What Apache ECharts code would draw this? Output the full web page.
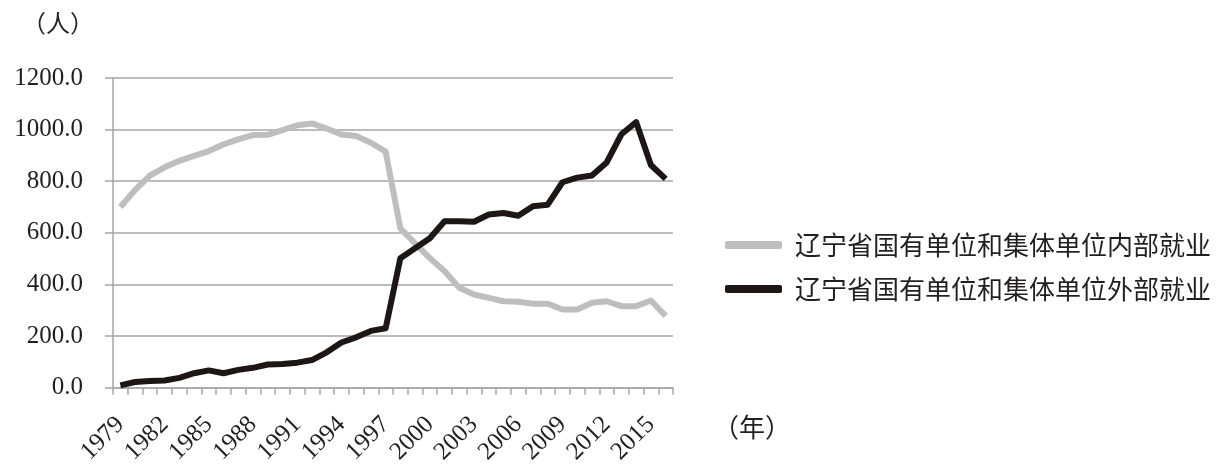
<!DOCTYPE html>
<html>
<head>
<meta charset="utf-8">
<script src="https://cdn.jsdelivr.net/npm/echarts@6/dist/echarts.min.js"></script>
<style>
html,body{margin:0;padding:0;background:#fff;}
#chart{width:1223px;height:467px;}
</style>
</head>
<body>
<div id="chart"></div>
<script>
// ---- data ----
var years = ['1979','1980','1981','1982','1983','1984','1985','1986','1987','1988',
             '1989','1990','1991','1992','1993','1994','1995','1996','1997','1998',
             '1999','2000','2001','2002','2003','2004','2005','2006','2007','2008',
             '2009','2010','2011','2012','2013','2014','2015','2016'];
var innerName = '辽宁省国有单位和集体单位内部就业';
var outerName = '辽宁省国有单位和集体单位外部就业';
var innerValues = [700,766,822,854,879,898,917,943,962,979,
                   980,998,1017,1024,1004,981,975,949,915,617,
                   559,502,451,387,361,348,335,333,325,325,
                   303,303,329,335,316,316,338,278];
var outerValues = [9,22,26,28,38,56,67,56,69,77,
                   90,92,97,107,137,175,195,220,230,502,
                   540,579,645,645,643,671,677,666,703,709,
                   796,814,822,873,982,1029,863,809];
var yTicks = {min:0, max:1200, interval:200};

var chart = echarts.init(document.getElementById('chart'));
var gridColor = '#a6a6a6';
var textColor = '#231f20';
var serif = '"Liberation Serif","Times New Roman",serif';
var cjk = '"Noto Sans CJK SC",sans-serif';

chart.setOption({
  animation:false,
  backgroundColor:'#fff',
  grid:{left:113,right:550,top:78,bottom:76,containLabel:false},
  legend:{
    orient:'vertical',
    left:720, top:226,
    itemWidth:57, itemHeight:8, itemGap:16,
    icon:'roundRect',
    textStyle:{fontSize:26,lineHeight:28,fontFamily:cjk,color:textColor,padding:[0,0,0,8]},
    data:[innerName,outerName]
  },
  xAxis:{
    type:'category',
    data:years,
    boundaryGap:true,
    axisLine:{show:true,lineStyle:{color:gridColor,width:1.5}},
    axisTick:{show:true,interval:0,length:7,lineStyle:{color:gridColor,width:1.5}},
    axisLabel:{interval:2,rotate:45,margin:33,fontSize:25,fontFamily:serif,color:textColor},
    splitLine:{show:false}
  },
  yAxis:{
    type:'value',
    min:yTicks.min,max:yTicks.max,interval:yTicks.interval,
    axisLine:{show:true,lineStyle:{color:gridColor,width:1.5}},
    axisTick:{show:true,length:8,lineStyle:{color:gridColor,width:1.5}},
    axisLabel:{margin:30,fontSize:25,fontFamily:serif,color:textColor,
      formatter:function(v){return v.toFixed(1);}},
    splitLine:{show:true,lineStyle:{color:gridColor,width:1.5}}
  },
  graphic:[
    {type:'text',left:22,top:11,style:{text:'（人）',font:'24px '+cjk,fill:textColor}},
    {type:'text',left:713,top:414,style:{text:'（年）',font:'26px '+cjk,fill:textColor}}
  ],
  series:[
    {name:innerName,type:'line',data:innerValues,symbol:'none',
     lineStyle:{color:'#bdbec0',width:6,join:'round'},itemStyle:{color:'#bdbec0'}},
    {name:outerName,type:'line',data:outerValues,symbol:'none',
     lineStyle:{color:'#1c1614',width:6,join:'round'},itemStyle:{color:'#1c1614'}}
  ]
});
</script>
</body>
</html>
